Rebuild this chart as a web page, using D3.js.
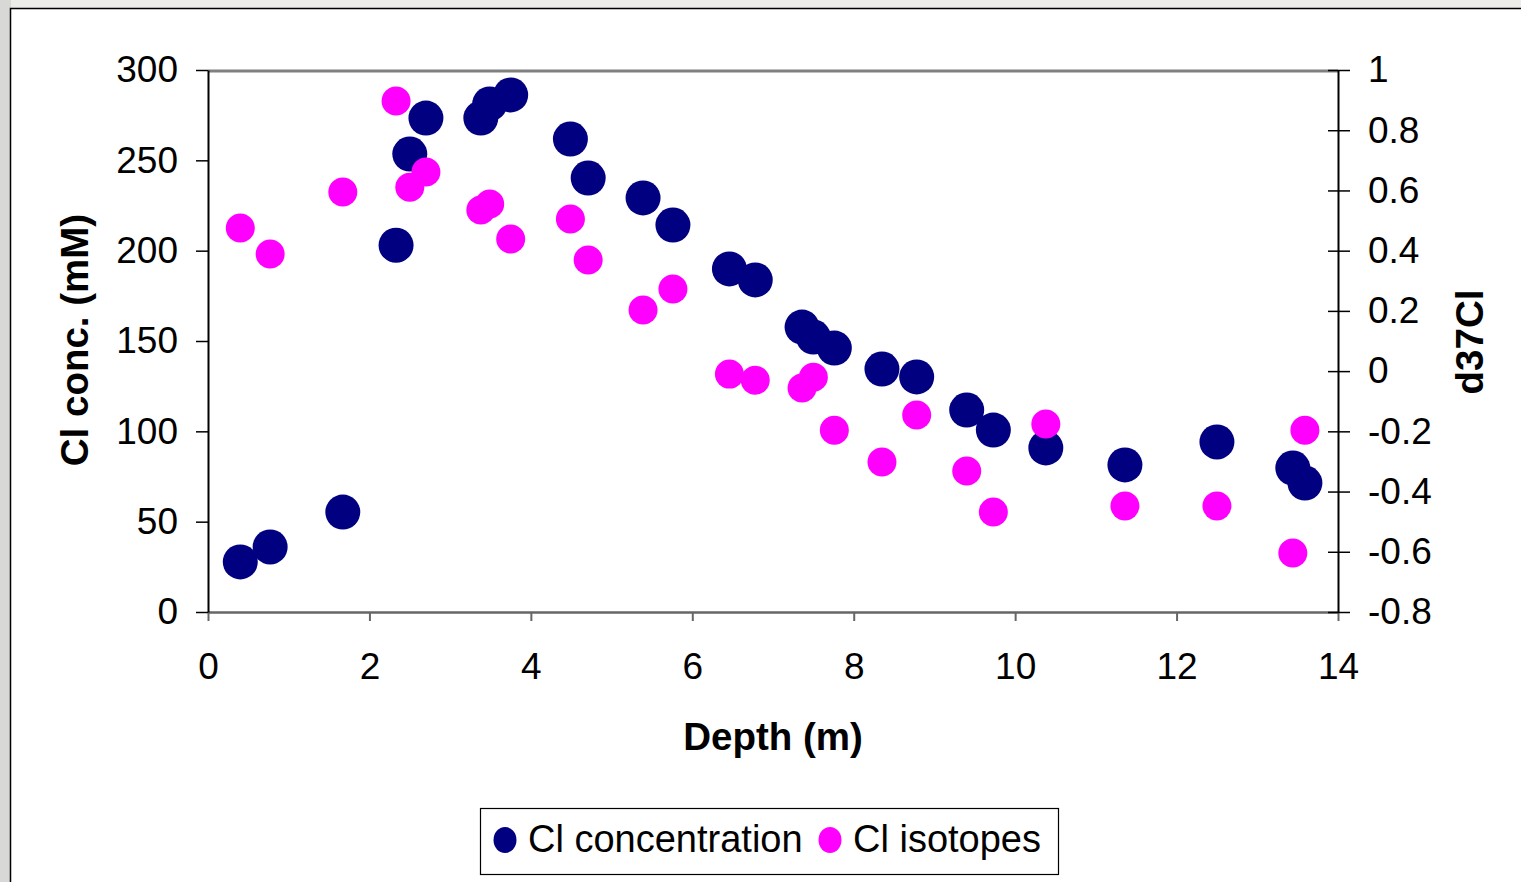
<!DOCTYPE html>
<html lang="en">
  <head>
    <meta charset="utf-8" />
    <title>Cl concentration and isotopes vs depth</title>
    <script src="https://d3js.org/d3.v7.min.js"></script>
    <style>
      body {
        margin: 0;
        background: #ecece9;
        overflow: hidden;
      }
      text {
        font-family: "Liberation Sans", Arial, sans-serif;
        fill: #000;
      }
      .tick-label {
        font-size: 37px;
      }
      .legend-label {
        font-size: 38px;
      }
      .title {
        font-size: 38.5px;
        font-weight: bold;
      }
    </style>
  </head>
  <body>
    <svg width="1521" height="882"></svg>
    <script>
      // depth (m) shared by both series
      const depth = [
        0.4, 0.77, 1.67, 2.33, 2.5, 2.7, 3.38, 3.49, 3.75, 4.49, 4.71, 5.39,
        5.76, 6.46, 6.78, 7.36, 7.5, 7.76, 8.35, 8.78, 9.4, 9.73, 10.38,
        11.36, 12.5, 13.44, 13.59,
      ];
      // Cl concentration (mM), left axis
      const clConc = [
        27.7, 36, 55.3, 203, 253.5, 273.4, 273.4, 281.2, 286.2, 261.8, 240.2,
        229.2, 214.2, 189.9, 183.8, 157.7, 152.2, 146.1, 134.5, 130.1, 111.8,
        100.7, 90.8, 81.4, 94.1, 79.7, 71.4,
      ];
      // d37Cl, right axis
      const clIso = [
        0.475, 0.389, 0.595, 0.897, 0.611, 0.661, 0.535, 0.555, 0.439, 0.505,
        0.369, 0.203, 0.273, -0.01, -0.03, -0.056, -0.02, -0.196, -0.302,
        -0.146, -0.332, -0.468, -0.176, -0.448, -0.448, -0.604, -0.196,
      ];
      const xTicks = [0, 2, 4, 6, 8, 10, 12, 14];
      const yLeftTicks = [0, 50, 100, 150, 200, 250, 300];
      const yRightTicks = [-0.8, -0.6, -0.4, -0.2, 0, 0.2, 0.4, 0.6, 0.8, 1];
      const seriesNames = ["Cl concentration", "Cl isotopes"];
      const colours = ["#000080", "#ff00ff"];

      const svg = d3.select("svg");
      const margin = { top: 70, left: 208, right: 1338, bottom: 612 };

      // page background and white panel
      svg.append("rect").attr("x", 0).attr("y", 0).attr("width", 11).attr("height", 882).attr("fill", "#d8d8d6");
      svg.append("rect")
        .attr("x", 10.5)
        .attr("y", 8.5)
        .attr("width", 1600)
        .attr("height", 1000)
        .attr("fill", "#fff")
        .attr("stroke", "#000")
        .attr("stroke-width", 1.5);

      const x = d3.scaleLinear().domain([0, 14]).range([margin.left, margin.right]);
      const yL = d3.scaleLinear().domain([0, 300]).range([margin.bottom, margin.top]);
      const yR = d3.scaleLinear().domain([-0.8, 1]).range([margin.bottom, margin.top]);

      // top border of plot area
      svg.append("line")
        .attr("x1", margin.left)
        .attr("x2", margin.right)
        .attr("y1", margin.top + 1)
        .attr("y2", margin.top + 1)
        .attr("stroke", "#808080")
        .attr("stroke-width", 3);

      // bottom axis
      const xAxis = svg.append("g")
        .attr("transform", "translate(0," + margin.bottom + ")")
        .call(d3.axisBottom(x).tickValues(xTicks).tickSize(9).tickSizeOuter(0).tickPadding(32).tickFormat(d3.format("d")));
      xAxis.select(".domain").attr("stroke", "#666").attr("stroke-width", 2.5);
      xAxis.selectAll(".tick line").attr("stroke", "#666").attr("stroke-width", 2);
      xAxis.selectAll("text").attr("class", "tick-label").attr("font-size", null).attr("font-family", null);

      // left axis
      const leftAxis = svg.append("g")
        .attr("transform", "translate(" + margin.left + ",0)")
        .call(d3.axisLeft(yL).tickValues(yLeftTicks).tickSize(12).tickSizeOuter(0).tickPadding(18));
      leftAxis.select(".domain").attr("stroke", "#000").attr("stroke-width", 2);
      leftAxis.selectAll(".tick line").attr("stroke", "#000").attr("stroke-width", 1.5);
      leftAxis.selectAll("text").attr("class", "tick-label").attr("font-size", null).attr("font-family", null);

      // right axis, ticks cross the line, plain hyphen for negatives
      const rightAxis = svg.append("g")
        .attr("transform", "translate(" + margin.right + ",0)")
        .call(d3.axisRight(yR).tickValues(yRightTicks).tickSize(12).tickSizeOuter(0).tickPadding(18)
          .tickFormat((d) => (Math.abs(d) < 1e-9 ? "0" : String(+d.toFixed(1)))));
      rightAxis.select(".domain").attr("stroke", "#000").attr("stroke-width", 2);
      rightAxis.selectAll(".tick line").attr("x1", -10).attr("stroke", "#000").attr("stroke-width", 1.5);
      rightAxis.selectAll("text").attr("class", "tick-label").attr("font-size", null).attr("font-family", null);

      // points: concentration first, isotopes on top
      const data = depth.map((d, i) => ({ depth: d, conc: clConc[i], iso: clIso[i] }));
      svg.append("g")
        .selectAll("circle")
        .data(data)
        .join("circle")
        .attr("cx", (d) => x(d.depth))
        .attr("cy", (d) => yL(d.conc))
        .attr("r", 17.5)
        .attr("fill", colours[0]);
      svg.append("g")
        .selectAll("circle")
        .data(data)
        .join("circle")
        .attr("cx", (d) => x(d.depth))
        .attr("cy", (d) => yR(d.iso))
        .attr("r", 14.5)
        .attr("fill", colours[1]);

      // axis titles
      svg.append("text")
        .attr("class", "title")
        .attr("text-anchor", "middle")
        .attr("x", 773)
        .attr("y", 750)
        .text("Depth (m)");
      svg.append("text")
        .attr("class", "title")
        .attr("text-anchor", "middle")
        .attr("transform", "translate(88,340) rotate(-90)")
        .text("Cl conc. (mM)");
      svg.append("text")
        .attr("class", "title")
        .attr("text-anchor", "middle")
        .attr("transform", "translate(1483,342) rotate(-90)")
        .text("d37Cl");

      // legend
      const legend = svg.append("g");
      legend.append("rect")
        .attr("x", 480.5)
        .attr("y", 808.5)
        .attr("width", 578)
        .attr("height", 66)
        .attr("fill", "#fff")
        .attr("stroke", "#000")
        .attr("stroke-width", 1.2);
      const legendX = [505, 830];
      seriesNames.forEach((name, i) => {
        legend.append("ellipse")
          .attr("cx", legendX[i])
          .attr("cy", 840)
          .attr("rx", 11.5)
          .attr("ry", 13)
          .attr("fill", colours[i]);
        legend.append("text")
          .attr("class", "legend-label")
          .attr("x", legendX[i] + 23)
          .attr("y", 852)
          .text(name);
      });
    </script>
  </body>
</html>
